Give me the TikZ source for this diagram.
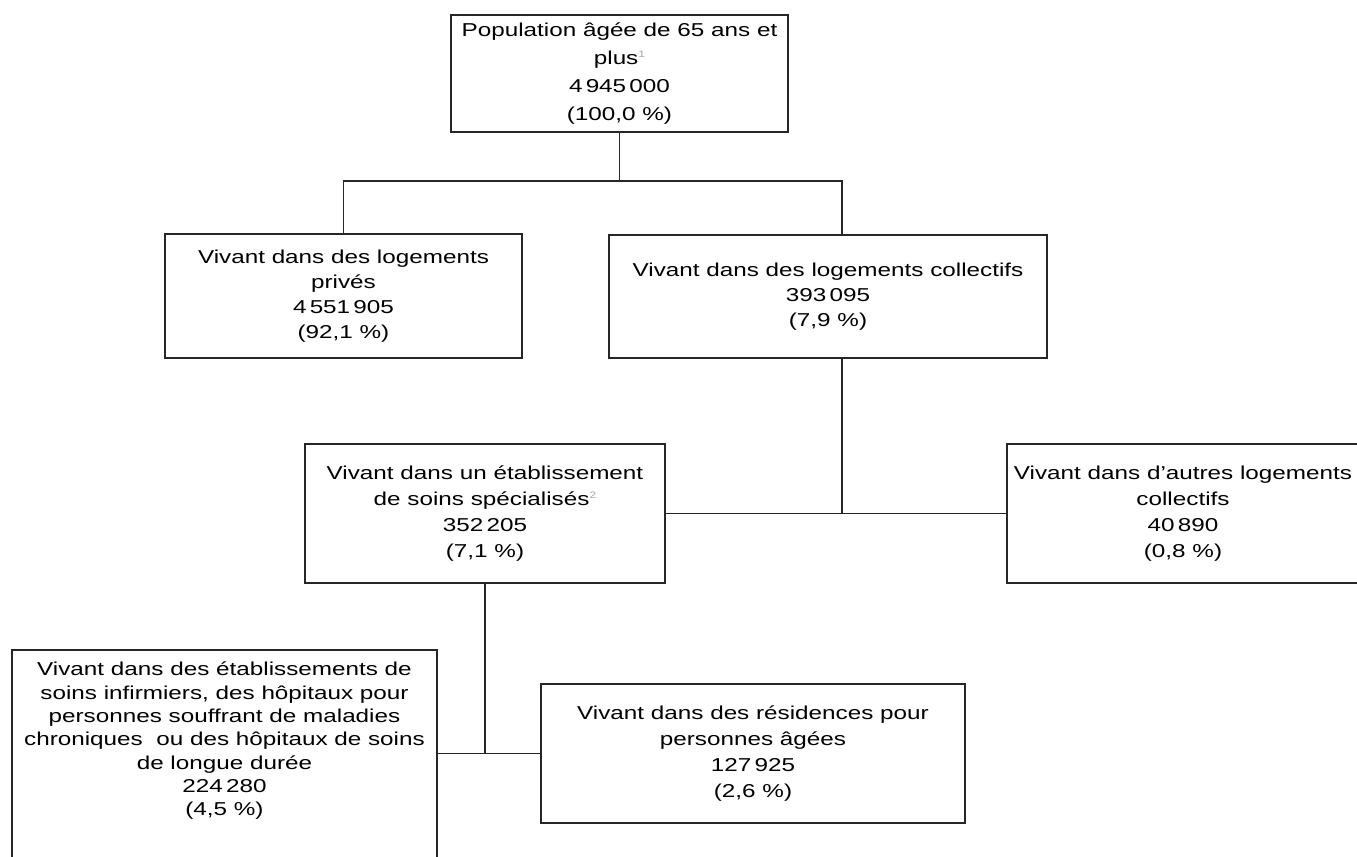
\documentclass[tikz,border=0pt]{standalone}
\usepackage{fontspec}
\setmainfont{Liberation Sans}[FakeStretch=1.3]
\newcommand{\supnote}[1]{\raisebox{0.75ex}{\textcolor{black!35}{\fontsize{7}{7}\selectfont #1}}}
\begin{document}
\begin{tikzpicture}[x=0.75pt,y=-0.75pt,
  box/.style={draw=black!85, line width=1.4pt, rectangle, inner sep=0pt, align=center, fill=white},
  txt/.style={inner sep=0pt, align=center},
  link/.style={draw=black!85, line width=1.4pt}]
\useasboundingbox (0,0) rectangle (1357,857);
\clip (0,0) rectangle (1357,857);
\fill[white] (0,0) rectangle (1357,857);

\node[box, minimum width=252.75pt, minimum height=87.75pt, font=\fontsize{14}{21}\selectfont] (top) at (619.5,73.5)
  {Population âgée de 65 ans et\\plus\supnote{1}\\4\,945\,000\\(100,0 \%)};

\node[box, minimum width=267.75pt, minimum height=93pt, font=\fontsize{14}{18.75}\selectfont] (priv) at (343.5,296)
  {Vivant dans des logements\\privés\\4\,551\,905\\(92,1 \%)};

\node[box, minimum width=328.5pt, minimum height=92.25pt, font=\fontsize{14}{18.75}\selectfont] (coll) at (828,296.5)
  {Vivant dans des logements collectifs\\393\,095\\(7,9 \%)};

\node[box, minimum width=270pt, minimum height=104.25pt, font=\fontsize{14}{19.5}\selectfont] (spec) at (485,513.5)
  {Vivant dans un établissement\\de soins spécialisés\supnote{2}\\352\,205\\(7,1 \%)};

\node[box, minimum width=264pt, minimum height=104.25pt, font=\fontsize{14}{19.5}\selectfont] (other) at (1183,513.5)
  {Vivant dans d'autres logements\\collectifs\\40\,890\\(0,8 \%)};

\node[box, minimum width=318.75pt, minimum height=165pt] (ltc) at (224.5,760) {};
\node[txt, font=\fontsize{14}{17.5}\selectfont] (ltctext) at (224.5,741)
  {Vivant dans des établissements de\\soins infirmiers, des hôpitaux pour\\personnes souffrant de maladies\\chroniques\ \ ou des hôpitaux de soins\\de longue durée\\224\,280\\(4,5 \%)};

\node[box, minimum width=318pt, minimum height=104.25pt, font=\fontsize{14}{19.5}\selectfont] (res) at (753,753.5)
  {Vivant dans des résidences pour\\personnes âgées\\127\,925\\(2,6 \%)};

\coordinate (a) at (619.5,181);
\coordinate (b) at (842,181);
\coordinate (c) at (842,513.5);

\draw[link] (top.south) -- (a);
\draw[link] (priv.north) |- (b) -- (coll.north -| b);
\draw[link] (coll.south -| c) -- (c);
\draw[link] (spec.east) -- (other.west);
\draw[link] (spec.south) -- (spec.south |- res.west);
\draw[link] (ltc.east |- res.west) -- (res.west);
\end{tikzpicture}
\end{document}
